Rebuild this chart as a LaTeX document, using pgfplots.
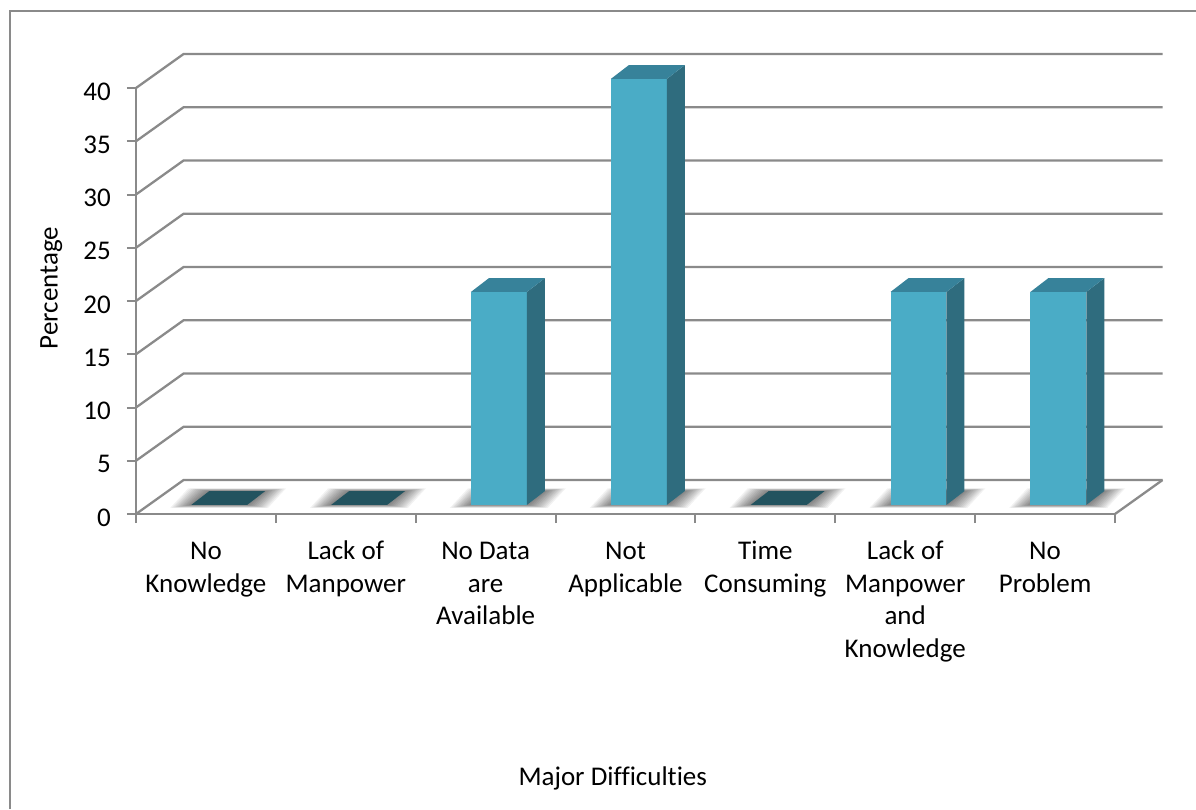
\documentclass[border=0pt]{standalone}
\usepackage{fontspec}
\setmainfont[Ligatures=NoCommon]{Carlito}
\usepackage{pgfplots}
\usepackage{pgfplotstable}
\pgfplotsset{compat=1.18}

\definecolor{wallgray}{HTML}{8A8A8A}
\definecolor{barfront}{HTML}{4AACC6}
\definecolor{bartop}{HTML}{37829A}
\definecolor{barside}{HTML}{2F6C7E}
\definecolor{barflat}{HTML}{23535F}

% Share of respondents per difficulty
\pgfplotstableread{
idx share
0   0
1   0
2   20
3   40
4   0
5   20
6   20
}\difficulties

% Oblique depth of the 3-D box, in axis units
\def\wallx{0.34}
\def\wally{3.19}
\def\barx{0.1287}
\def\bary{1.30}
\def\floory{0.85}
\newcommand\labelfont{\fontsize{27}{32.5}\selectfont}

\begin{document}
\begin{tikzpicture}[x=1pt,y=1pt]
\useasboundingbox (0,0) rectangle (1196,809);
\draw[wallgray,line width=1.8pt] (10,0) -- (10,798) -- (1196,798);
\begin{axis}[
  at={(136pt,295pt)}, anchor=south west,
  width=979pt, height=426pt, scale only axis,
  xmin=0, xmax=7, ymin=0, ymax=40,
  clip=false,
  axis x line=bottom, axis y line=left,
  axis line style={wallgray,line width=2.3pt,-},
  tick style={wallgray,line width=2pt},
  tick align=outside,
  major tick length=9pt, minor tick length=9pt,
  ytick={0,5,...,40},
  xtick={0.5,1.5,...,6.5},
  minor xtick={0,1,...,7},
  x tick style={draw=none},
  minor x tick style={wallgray,line width=2pt,draw=wallgray},
  xticklabels={{\strut No\\Knowledge},{\strut Lack of\\Manpower},{\strut No Data\\are\\Available},{\strut Not\\Applicable},{\strut Time\\Consuming},{\strut Lack of\\Manpower\\and\\Knowledge},{\strut No\\Problem}},
  x tick label style={align=center,anchor=north,inner sep=0pt,yshift=-14pt,font=\labelfont},
  y tick label style={inner sep=0pt,xshift=-16pt,yshift=-3.5pt,font=\labelfont},
  /pgf/number format/assume math mode=true,
  xlabel={Major Difficulties},
  ylabel={Percentage},
  xlabel style={at={(axis description cs:0.487,-0.621)},anchor=center,inner sep=0pt,font=\labelfont},
  ylabel style={at={(axis description cs:-0.0865,0.5305)},anchor=center,inner sep=0pt,font=\labelfont},
]
  % Back wall, side wall and floor edge
  \pgfplotsforeachungrouped \v in {0,5,...,40}{
    \pgfmathsetmacro\yb{\v+\wally}
    \pgfmathsetmacro\xe{7+\wallx}
    \addplot[wallgray,line width=2.3pt,forget plot]
      coordinates {(0,\v) (\wallx,\yb) (\xe,\yb)};
  }
  \pgfmathsetmacro\xe{7+\wallx}
  \addplot[wallgray,line width=2.3pt,forget plot]
    coordinates {(7,0) (\xe,\wally)};

  % Soft contact shadows, then the three visible faces of each box
  \pgfplotsforeachungrouped \i in {0,...,6}{
    \pgfplotstablegetelem{\i}{share}\of\difficulties
    \pgfmathsetmacro\val{\pgfplotsretval}
    \pgfmathsetmacro\xl{\i+0.395}
    \pgfmathsetmacro\xr{\i+0.795}
    \pgfmathsetmacro\xlb{\xl+\barx}
    \pgfmathsetmacro\xrb{\xr+\barx}
    \pgfmathsetmacro\yf{\floory}
    \pgfmathsetmacro\yfb{\floory+\bary}
    \pgfmathsetmacro\yt{\val+\floory}
    \pgfmathsetmacro\ytb{\yt+\bary}
    \pgfplotsforeachungrouped \k in {1,...,12}{
      \pgfmathsetmacro\e{\k*0.0125}
      \pgfmathsetmacro\f{\k*0.022}
      \pgfmathsetmacro\ax{\xl-\e}
      \pgfmathsetmacro\bx{\xr+\e}
      \pgfmathsetmacro\cx{\xrb+\e}
      \pgfmathsetmacro\dx{\xlb-\e}
      \pgfmathsetmacro\ay{\yf-\f}
      \pgfmathsetmacro\cy{\yfb+\f}
      \addplot[draw=none,fill=black,fill opacity=0.05,forget plot]
        coordinates {(\ax,\ay) (\bx,\ay) (\cx,\cy) (\dx,\cy)} -- cycle;
    }
    \pgfmathparse{\val>0?1:0}
    \ifnum\pgfmathresult=1
      \addplot[draw=none,fill=barfront,forget plot]
        coordinates {(\xl,\yf) (\xr,\yf) (\xr,\yt) (\xl,\yt)} -- cycle;
      \addplot[draw=none,fill=barside,forget plot]
        coordinates {(\xr,\yf) (\xrb,\yfb) (\xrb,\ytb) (\xr,\yt)} -- cycle;
      \addplot[draw=none,fill=bartop,forget plot]
        coordinates {(\xl,\yt) (\xr,\yt) (\xrb,\ytb) (\xlb,\ytb)} -- cycle;
    \else
      \addplot[draw=none,fill=barflat,forget plot]
        coordinates {(\xl,\yt) (\xr,\yt) (\xrb,\ytb) (\xlb,\ytb)} -- cycle;
    \fi
  }
\end{axis}
\end{tikzpicture}
\end{document}
